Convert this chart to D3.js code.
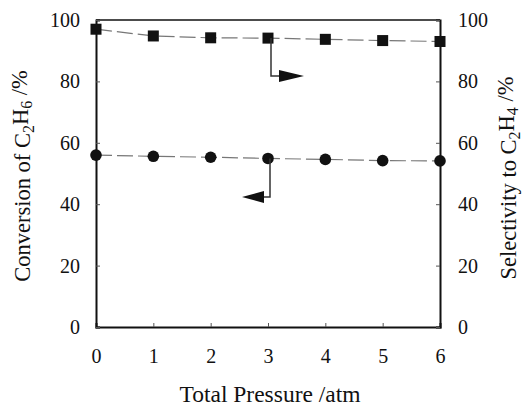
<!DOCTYPE html>
<html><head><meta charset="utf-8">
<script src="https://cdn.jsdelivr.net/npm/d3@7"></script>
</head><body style="margin:0">
<svg id="c" width="528" height="407" style="display:block;background:#fff"></svg>
<script>
const pressure = [0, 1, 2, 3, 4, 5, 6];
const selectivity = [97, 94.8, 94.2, 94.1, 93.7, 93.3, 93.0];
const conversion = [56.0, 55.6, 55.3, 54.9, 54.6, 54.2, 54.1];
const xTicks = [0, 1, 2, 3, 4, 5, 6];
const yTicks = [0, 20, 40, 60, 80, 100];

const FONT = '"Liberation Serif"';
const svg = d3.select("#c");
const L = 96, R = 440, T = 20, B = 327;
const x = d3.scaleLinear().domain([0, 6]).range([L, R]);
const yL = d3.scaleLinear().domain([0, 100]).range([B, T]);
const yR = d3.scaleLinear().domain([0, 100]).range([B, T]);

svg.append("line").attr("x1", L).attr("x2", R).attr("y1", T).attr("y2", T).attr("stroke", "#111").attr("stroke-width", 1.6);
const ax = d3.axisBottom(x).tickValues(xTicks).tickSize(-4).tickPadding(22).tickFormat(d3.format("d"));
const gx = svg.append("g").attr("transform", `translate(0,${B})`).call(ax);
const ay = d3.axisLeft(yL).tickValues(yTicks).tickSize(-4).tickPadding(16);
const gy = svg.append("g").attr("transform", `translate(${L},0)`).call(ay);
const ar = d3.axisRight(yR).tickValues(yTicks).tickSize(-4).tickPadding(18);
const gr = svg.append("g").attr("transform", `translate(${R},0)`).call(ar);
[gx, gy, gr].forEach(g => {
  g.attr("font-family", FONT).attr("font-size", 20);
  g.select(".domain").attr("stroke", "#111").attr("stroke-width", 2);
  g.selectAll(".tick line").attr("stroke", "#555").attr("stroke-width", 1);
  g.selectAll(".tick text").attr("fill", "#111").attr("font-family", FONT).attr("font-size", 20);
});
gx.selectAll(".tick text").attr("dy", "0.71em");

const lineS = d3.line().x((d, i) => x(pressure[i])).y(d => yR(d));
const lineC = d3.line().x((d, i) => x(pressure[i])).y(d => yL(d));
svg.append("path").attr("d", lineS(selectivity)).attr("fill", "none").attr("stroke", "#777").attr("stroke-width", 1.2).attr("stroke-dasharray", "16,5");
svg.append("path").attr("d", lineC(conversion)).attr("fill", "none").attr("stroke", "#777").attr("stroke-width", 1.2).attr("stroke-dasharray", "16,5");

svg.selectAll(".sq").data(selectivity).enter().append("rect")
  .attr("x", (d, i) => x(pressure[i]) - 5.5).attr("y", d => yR(d) - 5.5)
  .attr("width", 11).attr("height", 11).attr("fill", "#111");
svg.selectAll(".ci").data(conversion).enter().append("circle")
  .attr("cx", (d, i) => x(pressure[i])).attr("cy", d => yL(d)).attr("r", 5.8).attr("fill", "#111");

const ax3 = x(3) + 3;
const sy = yR(selectivity[3]), sArrowY = 76;
svg.append("path").attr("d", `M${ax3},${sy}V${sArrowY}H${ax3 + 9}`).attr("fill", "none").attr("stroke", "#333").attr("stroke-width", 1.5);
svg.append("path").attr("d", `M${ax3 + 8},${sArrowY - 6}L${ax3 + 33},${sArrowY}L${ax3 + 8},${sArrowY + 6}Z`).attr("fill", "#111");
const cx3 = x(3) + 2;
const cy = yL(conversion[3]), cArrowY = 197;
svg.append("path").attr("d", `M${cx3},${cy}V${cArrowY}H${cx3 - 7}`).attr("fill", "none").attr("stroke", "#333").attr("stroke-width", 1.5);
svg.append("path").attr("d", `M${cx3 - 6},${cArrowY - 6}L${cx3 - 28},${cArrowY}L${cx3 - 6},${cArrowY + 6}Z`).attr("fill", "#111");

svg.append("text").attr("x", (L + R) / 2 + 2).attr("y", 402).attr("text-anchor", "middle")
  .attr("font-family", FONT).attr("font-size", 23.5).attr("fill", "#111").text("Total Pressure /atm");
function vtitle(tx, ty, parts) {
  const t = svg.append("text").attr("transform", `translate(${tx},${ty}) rotate(-90)`).attr("text-anchor", "middle")
    .attr("font-family", FONT).attr("font-size", 22.5).attr("fill", "#111");
  parts.forEach(p => {
    const s = t.append("tspan").attr("font-family", FONT).text(p[0]);
    if (p[1] === "sub") s.attr("dy", "0.25em").attr("font-size", 16);
    else if (p[1] === "up") s.attr("dy", "-0.25em");
  });
}
vtitle(30, 176, [["Conversion of C"], ["2", "sub"], ["H", "up"], ["6", "sub"], [" /%", "up"]]);
vtitle(516, 178, [["Selectivity to C"], ["2", "sub"], ["H", "up"], ["4", "sub"], [" /%", "up"]]);
</script></body></html>
